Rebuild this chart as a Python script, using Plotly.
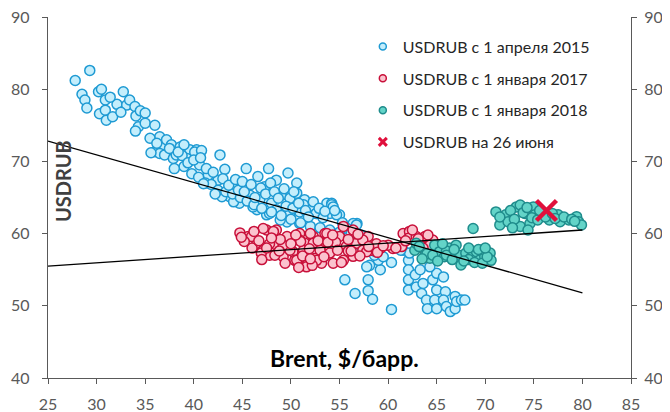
import plotly.graph_objects as go

# --- data ---
blue_x = [27.8, 29.3, 28.5, 28.8, 29.0, 30.2, 30.5, 30.9, 30.3, 30.9, 31.0, 31.65, 32.1, 32.75, 33.1, 33.4,
          33.95, 34.05, 34.5, 35.0, 34.3, 35.0, 36.0, 36.5, 36.0, 36.85, 37.2, 37.7, 38.6, 39.6, 36.5, 37.0,
          37.9, 38.2, 39.3, 40.3, 40.1, 40.8, 42.7, 40.6, 41.5, 43.2, 42.5, 44.1, 43.7, 45.4, 46.6, 47.7,
          47.3, 48.5, 49.7, 50.6, 45.8, 46.8, 48.0, 49.0, 49.9, 50.6, 51.4, 50.9, 52.0, 52.6, 53.7, 54.2,
          54.0, 49.9, 48.5, 47.5, 46.5, 44.7, 42.9, 50.9, 49.6, 44.1, 46.1, 47.8, 48.9, 51.3, 52.6, 54.2,
          55.0, 56.8, 39.0, 39.8, 40.5, 41.2, 41.8, 42.5, 43.3, 44.0, 44.8, 45.5, 46.2, 47.0, 48.0, 49.0,
          50.0, 51.0, 52.0, 53.0, 54.0, 55.0, 56.0, 54.35, 54.7, 56.4, 56.75,
          55.55, 56.6, 57.95, 57.95, 58.4, 58.1, 59.2, 59.0, 60.35, 60.35, 62.1, 62.1, 62.1, 62.1, 62.8,
          62.9, 63.6, 63.45, 63.95, 64.05, 64.6, 65.0, 65.0, 64.8, 65.0, 65.7, 65.9, 65.7, 66.0, 66.4,
          66.9, 66.9, 67.05, 67.55, 67.9, 64.3, 63.3, 61.55, 62.2, 61.3, 57.8, 57.0, 58.6,
          37.5, 38.0, 38.8, 39.4, 40.0, 40.7, 41.3, 41.0, 42.0, 42.2, 43.0, 43.6, 44.3, 44.6, 45.0, 45.2,
          45.9, 46.3, 46.9, 47.4, 47.9, 48.3, 48.7, 49.3, 49.5, 50.3, 50.2, 50.8, 51.5, 51.8, 52.3, 52.9,
          53.3, 53.5, 54.5, 55.3, 55.8, 56.2, 57.2, 58.0, 58.7, 59.5, 35.5, 34.0, 32.5, 31.4, 35.6, 36.2,
          38.4, 39.0]
blue_y = [81.2, 82.6, 79.3, 78.5, 77.4, 79.65, 80.0, 78.5, 76.6, 77.1, 75.7, 76.2, 77.9, 79.65, 77.8, 78.5,
          77.6, 76.3, 77.0, 76.7, 74.8, 75.3, 75.0, 73.4, 71.35, 72.3, 73.0, 72.3, 72.0, 71.6, 71.1, 70.9,
          70.4, 70.9, 70.4, 71.6, 71.3, 71.5, 70.9, 69.5, 68.1, 68.9, 67.4, 66.5, 65.1, 69.0, 67.9, 69.0,
          66.5, 67.4, 68.4, 67.0, 65.3, 64.7, 64.2, 65.3, 64.9, 65.6, 64.7, 63.0, 63.5, 62.8, 64.2, 64.2,
          62.8, 62.8, 63.3, 62.6, 63.3, 64.2, 65.1, 61.4, 61.6, 64.4, 63.7, 62.8, 61.9, 64.0, 62.8, 64.0,
          62.6, 61.4, 69.3, 68.3, 67.8, 67.0, 66.8, 66.0, 65.8, 65.5, 65.0, 64.5, 64.0, 63.5, 63.0, 62.5,
          62.0, 61.5, 61.0, 60.8, 60.5, 60.2, 59.8, 63.7, 62.6, 61.4, 61.2,
          53.6, 51.7, 53.6, 52.1, 50.9, 55.6, 55.0, 56.3, 56.0, 49.5, 56.3, 55.0, 53.6, 52.2, 54.3,
          52.6, 53.1, 51.7, 50.8, 49.6, 53.6, 54.5, 52.2, 50.8, 49.6, 54.0, 51.95, 50.8, 49.9, 49.2,
          49.6, 51.3, 50.6, 50.8, 50.8, 55.4, 55.0, 57.7, 57.3, 57.7, 55.4, 58.5, 57.0,
          71.8, 69.0, 70.8, 69.8, 70.2, 70.5, 69.0, 66.9, 68.5, 65.5, 67.6, 66.7, 67.5, 66.0, 67.2, 65.8,
          66.8, 65.0, 66.3, 65.5, 67.0, 65.8, 64.9, 66.2, 63.8, 65.8, 63.5, 64.2, 63.2, 62.3, 64.4, 63.5,
          62.2, 63.1, 63.2, 61.5, 60.7, 60.0, 59.8, 58.8, 57.5, 56.8, 73.2, 74.2, 76.8, 78.9, 71.2, 72.5,
          71.3, 72.3]

red_x = [44.75, 45.6, 46.5, 47.15, 47.8, 47.5, 48.5, 48.5, 49.6, 49.2, 50.2, 50.4, 50.9, 51.4, 51.6, 52.3,
         52.5, 53.0, 53.5, 53.15, 45.95, 47.15, 48.2, 47.8, 46.95, 48.35, 49.6, 49.9, 50.6, 51.6, 52.0,
         52.3, 52.65, 53.7, 54.0, 54.35, 55.4, 55.0, 55.7, 55.4, 56.4, 56.75, 56.4, 57.4, 57.95, 50.9,
         51.3, 49.2, 53.0, 57.4, 58.3, 59.2, 60.5, 61.4, 61.55, 62.2, 62.1, 62.9, 63.8, 64.6, 64.3, 63.3,
         57.8, 46.0, 48.9, 51.0, 54.6, 55.9, 58.8, 60.0,
         45.2, 46.2, 46.7, 47.5, 48.0, 48.8, 49.4, 50.0, 50.5, 51.2, 51.9, 52.2, 52.8, 53.4, 53.8, 54.3,
         54.8, 55.2, 55.9, 56.2, 56.9, 57.1, 58.0, 58.9, 59.5, 60.8, 61.8, 62.5, 63.1, 63.6, 64.1, 44.9,
         47.0, 50.8, 52.0]
red_y = [60.1, 59.6, 58.65, 57.7, 57.0, 60.5, 60.5, 58.4, 59.1, 56.8, 57.5, 56.3, 60.0, 58.7, 55.65, 59.6,
         56.6, 58.0, 60.0, 55.9, 59.6, 60.7, 60.3, 58.6, 57.3, 57.0, 59.6, 57.7, 56.3, 55.4, 60.0,
         58.65, 56.3, 60.0, 57.3, 55.9, 61.0, 59.6, 58.2, 56.3, 60.5, 58.65, 56.85, 57.7, 59.6, 59.1,
         57.7, 58.4, 57.7, 59.1, 57.7, 57.95, 57.95, 58.2, 60.0, 60.3, 59.35, 59.6, 59.6, 59.1, 58.4, 58.4,
         57.5, 58.0, 59.2, 58.9, 58.8, 57.6, 58.6, 58.4,
         58.9, 60.3, 59.0, 58.0, 59.4, 57.6, 55.9, 58.6, 59.8, 56.9, 57.9, 55.6, 59.0, 56.8, 58.8, 59.8,
         57.7, 56.0, 59.2, 57.6, 59.9, 56.9, 58.2, 57.4, 58.3, 58.0, 59.0, 60.5, 59.3, 58.0, 59.8, 59.5,
         56.4, 55.3, 56.5]

teal_x = [62.75, 62.9, 63.8, 64.3, 64.8, 65.3, 65.8, 66.3, 67.0, 67.3, 67.5, 68.0, 68.6, 69.1, 69.4, 69.95,
          70.5, 70.6, 68.75, 71.1, 72.1, 71.5, 72.35, 73.2, 73.6, 74.1, 73.6, 74.6, 74.95, 75.1, 75.8,
          76.6, 77.5, 77.7, 78.6, 79.4, 79.6, 79.9, 74.4, 66.0, 68.3, 69.8, 64.0,
          63.2, 63.5, 64.6, 65.1, 65.6, 66.0, 66.6, 66.8, 67.8, 68.3, 68.9, 69.3, 69.7, 70.2, 70.0, 71.5,
          72.6, 73.0, 73.9, 74.3, 74.8, 75.4, 75.6, 76.2, 76.9, 77.2, 78.1, 78.9, 79.2, 72.8]
teal_y = [57.7, 58.65, 57.0, 56.6, 58.4, 57.5, 56.8, 58.0, 58.4, 57.0, 55.65, 57.3, 56.8, 57.5, 56.3, 56.8,
          57.3, 56.3, 60.7, 63.0, 62.6, 61.2, 61.65, 63.7, 63.96, 62.8, 61.0, 61.4, 63.7, 62.6, 62.35,
          61.9, 62.6, 61.65, 61.9, 62.35, 61.65, 61.2, 60.5, 57.6, 56.4, 57.8, 57.2,
          58.2, 56.5, 57.0, 56.2, 58.6, 57.0, 56.4, 57.8, 56.2, 58.0, 56.0, 57.8, 55.9, 56.8, 58.0, 62.3,
          63.2, 62.0, 62.9, 63.6, 62.2, 61.9, 63.2, 62.3, 62.8, 62.1, 62.3, 62.0, 61.7, 60.8]

today_x = [76.3]
today_y = [63.2]

trend1_x = [25, 80]
trend1_y = [72.8, 51.8]
trend2_x = [25, 80]
trend2_y = [55.5, 60.5]

x_ticks = list(range(25, 90, 5))
y_ticks = list(range(40, 100, 10))

names = ["USDRUB с 1 апреля 2015", "USDRUB с 1 января 2017", "USDRUB с 1 января 2018", "USDRUB на 26 июня"]

FONT = "Lato, 'Noto Sans', sans-serif"
BLUE_F, BLUE_L = "#C4EEFC", "#1E9AD3"
RED_F, RED_L = "#FBC3CE", "#C8103A"
TEAL_F, TEAL_L = "#63D4C8", "#1F8C8C"
XCOL = "#E0103C"

fig = go.Figure()
for xs, ys, fc, lc in [(blue_x, blue_y, BLUE_F, BLUE_L), (red_x, red_y, RED_F, RED_L),
                       (teal_x, teal_y, TEAL_F, TEAL_L)]:
    fig.add_trace(go.Scatter(x=xs, y=ys, mode="markers", showlegend=False, hoverinfo="skip",
                             marker=dict(size=10, color=fc, line=dict(color=lc, width=1.5))))
fig.add_trace(go.Scatter(x=trend1_x, y=trend1_y, mode="lines", showlegend=False,
                         line=dict(color="black", width=1.3)))
fig.add_trace(go.Scatter(x=trend2_x, y=trend2_y, mode="lines", showlegend=False,
                         line=dict(color="black", width=1.3)))
fig.add_trace(go.Scatter(x=today_x, y=today_y, mode="markers", showlegend=False,
                         marker=dict(symbol="x-thin", size=20, line=dict(color=XCOL, width=4.5))))

# legend-only entries
for i, (fc, lc) in enumerate([(BLUE_F, BLUE_L), (RED_F, RED_L), (TEAL_F, TEAL_L)]):
    fig.add_trace(go.Scatter(x=[None], y=[None], mode="markers", name=names[i], legendgroup=str(i),
                             marker=dict(size=7, color=fc, line=dict(color=lc, width=1.5))))
fig.add_trace(go.Scatter(x=[None], y=[None], mode="markers", name=names[3], legendgroup="3",
                         marker=dict(symbol="x-thin", size=8, line=dict(color=XCOL, width=3))))

axis_common = dict(showgrid=False, zeroline=False, showline=True, linecolor="#595959", linewidth=1.3,
                   ticks="outside", ticklen=5, tickcolor="#595959", tickwidth=1.3,
                   ticklabeloverflow="allow", automargin=False,
                   tickfont=dict(family=FONT, size=16, color="#595959"))
fig.update_layout(
    width=662, height=404,
    margin=dict(l=40, r=39, t=9, b=34, autoexpand=False),
    paper_bgcolor="white", plot_bgcolor="white",
    xaxis=dict(range=[25, 85], tickvals=x_ticks, ticklabelstandoff=7, **axis_common),
    yaxis=dict(range=[40, 90], tickvals=y_ticks, ticklabelstandoff=9, **axis_common),
    yaxis2=dict(range=[40, 90], tickvals=y_ticks, overlaying="y", side="right",
                matches="y", ticklabelstandoff=4, **axis_common),
    legend=dict(x=0.54, y=0.965, xanchor="left", yanchor="top", bgcolor="rgba(0,0,0,0)",
                font=dict(family=FONT, size=16, color="#262626"), tracegroupgap=8,
                itemsizing="trace"),
    annotations=[
        dict(text="<b>Brent, $/барр.</b>", x=0.509, y=0.056, xref="paper", yref="paper",
             xanchor="center", yanchor="middle",
             showarrow=False, font=dict(family=FONT, size=23, color="black")),
        dict(text="<b>USDRUB</b>", x=0.026, y=0.546, xref="paper", yref="paper", textangle=-90,
             xanchor="center", yanchor="middle",
             showarrow=False, font=dict(family=FONT, size=20, color="#404040")),
    ],
)
# hidden trace to activate right axis
fig.add_trace(go.Scatter(x=[None], y=[None], yaxis="y2", showlegend=False))

fig.write_html("out.html")
